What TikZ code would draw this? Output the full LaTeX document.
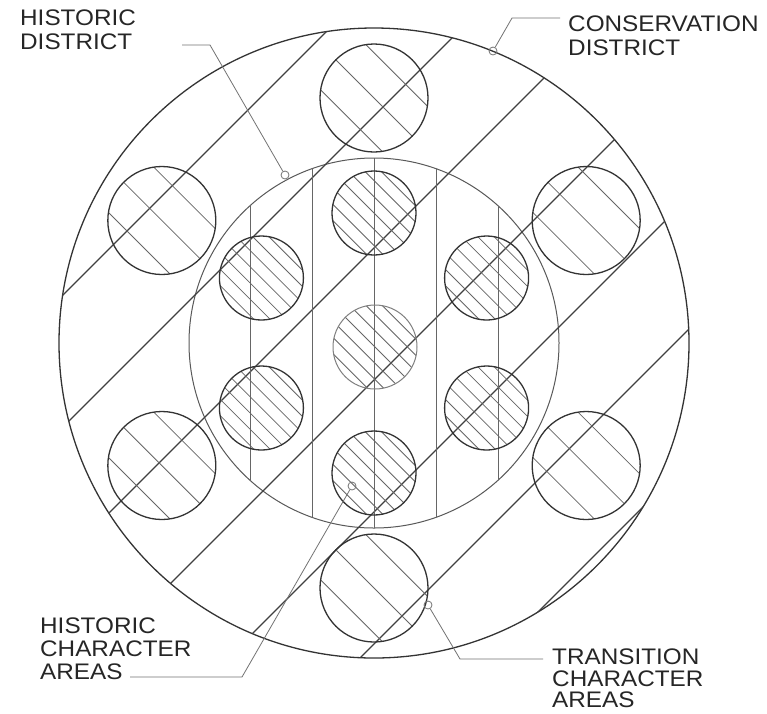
\documentclass[tikz,border=0pt]{standalone}
\usepackage{fontspec}
\setmainfont{Liberation Sans}[FakeStretch=1.08]
\newcommand\hatchcirc[4]{%
  \pgfmathsetmacro\hcx{#1}%
  \pgfmathsetmacro\hcy{#2}%
  \begin{scope}
    \clip (\hcx,\hcy) circle (#3);
    \foreach \k in {-9,...,9}
      \draw[hatchline] ({\hcx+\k*#4*0.7071-150},{\hcy-\k*#4*0.7071-150}) -- ++(300,300);
  \end{scope}}
\begin{document}
\begin{tikzpicture}[x=1pt,y=-1pt,
  outerring/.style={line width=1.3pt, draw=black!80},
  innerring/.style={line width=1pt, draw=black!65},
  spot/.style={circle, line width=1.3pt, draw=black!80, inner sep=0pt},
  softspot/.style={circle, line width=1pt, draw=black!50, inner sep=0pt},
  diag/.style={line width=1.1pt, draw=black!75},
  vert/.style={line width=0.9pt, draw=black!60},
  hatchline/.style={line width=0.8pt, draw=black!60},
  leader/.style={line width=0.8pt, draw=black!55},
  tag/.style={circle, draw=black!55, line width=0.8pt, inner sep=0pt, minimum size=8pt},
  lbl/.style={anchor=base west, inner sep=0pt, text=black!85, font=\fontsize{22.5}{24}\selectfont}]
\useasboundingbox (0,0) rectangle (767,713);
\fill[white] (0,0) rectangle (767,713);

% outer and inner district rings
\node[circle, outerring, minimum size=630pt, inner sep=0pt] (cons) at (374,343) {};
\node[circle, innerring, minimum size=370pt, inner sep=0pt] (hist) at (374,343) {};

% diagonal transition bands
\begin{scope}
  \clip (374,343) circle (315);
  \foreach \c in {358,490,622,754,886,1018,1150}
    \draw[diag] (0,\c) -- (800,\c-800);
\end{scope}

% vertical historic bands
\begin{scope}
  \clip (374,343) circle (185);
  \foreach \x in {250,312,374,436,498}
    \draw[vert] (\x,0) -- (\x,713);
\end{scope}

% hatching
\foreach \ang in {30,90,150,210,270,330}{
  \hatchcirc{374+245*cos(\ang)}{343-245*sin(\ang)}{54}{32}
  \hatchcirc{374+130*cos(\ang)}{343-130*sin(\ang)}{42}{11.5}
}
\hatchcirc{375}{347}{42}{11.5}

% circle outlines
\foreach \ang/\nm in {30/oa,90/ob,150/oc,210/od,270/oe,330/of}{
  \node[spot, minimum size=108pt] (\nm) at ({374+245*cos(\ang)},{343-245*sin(\ang)}) {};
}
\foreach \ang/\nm in {30/ia,90/ib,150/ic,210/id,270/ie,330/if}{
  \node[spot, minimum size=84pt] (\nm) at ({374+130*cos(\ang)},{343-130*sin(\ang)}) {};
}
\node[softspot, minimum size=84pt] (ic0) at (375,347) {};

% labels
\node[lbl] (t1a) at (20,25) {HISTORIC};
\node[lbl] (t1b) at (20,49) {DISTRICT};
\node[lbl] (t2a) at (568,31) {CONSERVATION};
\node[lbl] (t2b) at (568,55) {DISTRICT};
\node[lbl] (t3a) at (40,633) {HISTORIC};
\node[lbl] (t3b) at (40,656) {CHARACTER};
\node[lbl] (t3c) at (40,679) {AREAS};
\node[lbl] (t4a) at (552,664) {TRANSITION};
\node[lbl] (t4b) at (552,686) {CHARACTER};
\node[lbl] (t4c) at (552,707) {AREAS};

% leaders
\node[tag] (g1) at (285,175) {};
\coordinate (l1a) at (182,45);
\coordinate (l1b) at (210,45);
\draw[leader] (l1a) -- (l1b) -- (g1);

\node[tag] (g2) at (493,51) {};
\coordinate (l2a) at (560,18);
\coordinate (l2b) at (512,18);
\draw[leader] (l2a) -- (l2b) -- (g2);

\node[tag] (g3) at (352,486) {};
\coordinate (l3a) at (130,677);
\coordinate (l3b) at (242,677);
\draw[leader] (l3a) -- (l3b) -- (g3);

\node[tag] (g4) at (428,605) {};
\coordinate (l4a) at (543,659);
\coordinate (l4b) at (460,659);
\draw[leader] (l4a) -- (l4b) -- (g4);
\end{tikzpicture}
\end{document}
